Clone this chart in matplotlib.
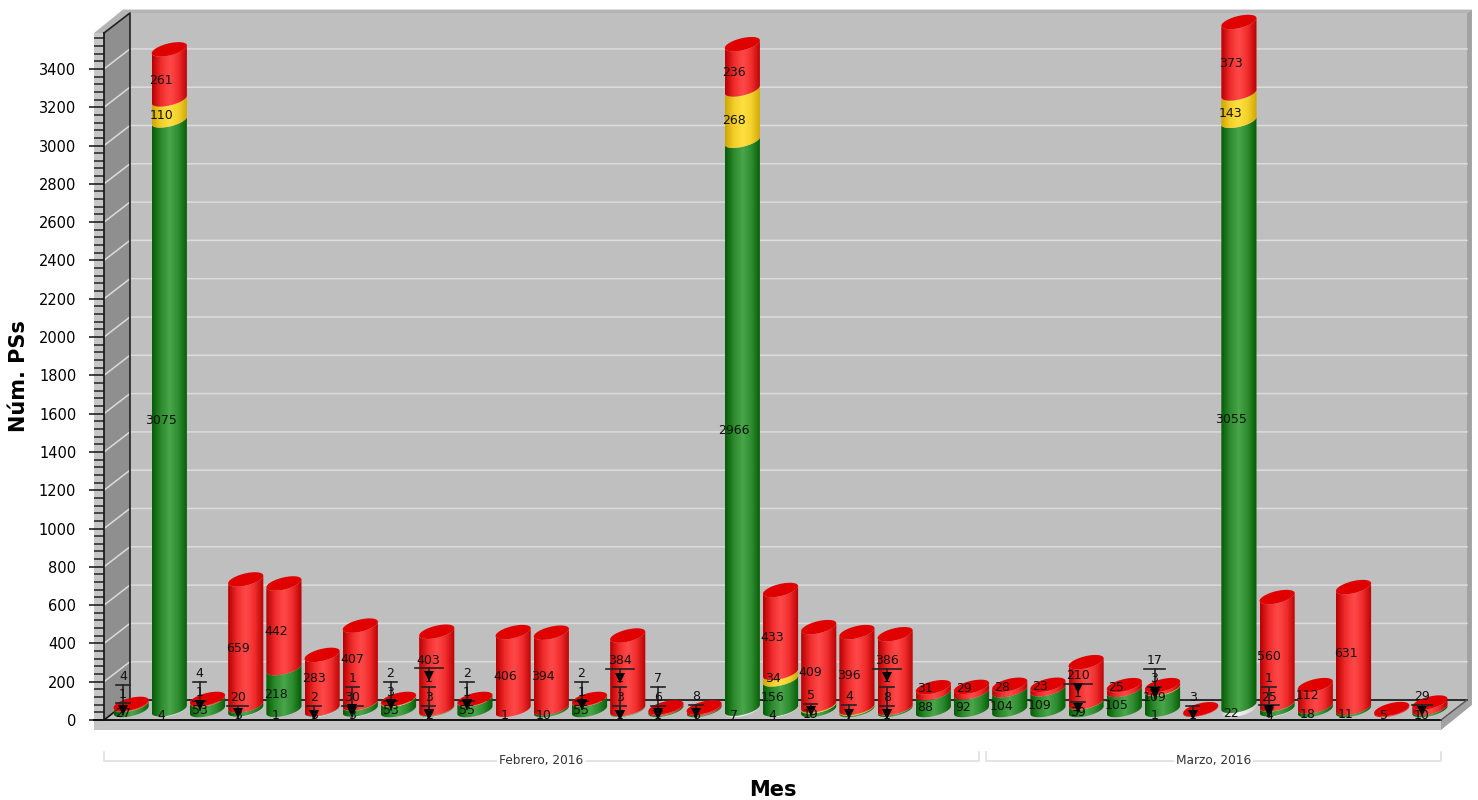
import numpy as np
import matplotlib
matplotlib.use("Agg")
import matplotlib.pyplot as plt
from matplotlib.colors import LinearSegmentedColormap
from matplotlib.patches import Polygon
from matplotlib.ticker import MultipleLocator

# PS counts per column, stacked bottom to top
sin_dato = [0, 4, 0, 3, 1, 3, 3, 0, 2, 0, 1, 0, 0, 1, 1, 0, 7, 4, 0, 0, 1,
            0, 0, 0, 0, 0, 0, 1, 1, 22, 4, 0, 0, 0, 0]
verde = [27, 3075, 53, 20, 218, 2, 30, 53, 3, 55, 0, 10, 55, 3, 6, 6, 2966, 156, 19, 7, 8,
         88, 92, 104, 109, 39, 105, 109, 0, 3055, 25, 18, 11, 0, 10]
amarillo = [1, 110, 1, 0, 0, 0, 1, 3, 1, 1, 0, 0, 1, 1, 0, 0, 268, 34, 5, 4, 1,
            0, 0, 0, 0, 1, 0, 3, 0, 143, 1, 0, 0, 0, 0]
rojo = [4, 261, 4, 659, 442, 283, 407, 2, 403, 2, 406, 394, 2, 384, 7, 8, 236, 433, 409, 396, 386,
        31, 29, 28, 23, 210, 25, 17, 3, 373, 560, 112, 631, 5, 29]

meses = ["Febrero, 2016", "Marzo, 2016"]
columnas_mes = [23, 12]

Y_TOP = 3587.5
DEPTH_X, DEPTH_Y = 0.68, 104.4      # oblique depth of the box, in data units
BAR_DX, BAR_DY = 0.21, 52           # bars stand halfway into the box
BAR_RX, CAP_RY, CAP_TILT = 0.46, 32, 20
BAND_X, BAND_Y = 0.26, 52
LABEL_LIFT, LABEL_GAP, LEADER_MIN = 21, 97, 60

GRADIENTS = {
    "sin": ["#c8c8c8", "#e4e4e4", "#f2f2f2", "#e4e4e4", "#c8c8c8"],
    "verde": ["#045c04", "#2e8a2e", "#4aa64a", "#2e8a2e", "#045c04"],
    "amarillo": ["#cfa600", "#f2cf2c", "#ffe040", "#f2cf2c", "#cfa600"],
    "rojo": ["#b80000", "#f02c2c", "#ff4a4a", "#f02c2c", "#b80000"],
}
CAP_COLOR = "#e00000"

fig = plt.figure(figsize=(14.78, 8), dpi=100, facecolor="white")
ax = fig.add_axes([104 / 1478, 80 / 800, 1337 / 1478, 687 / 800])
n = len(verde)


def front_curve(cx, y, reverse=False):
    t = np.linspace(np.pi, 2 * np.pi, 40)
    if reverse:
        t = t[::-1]
    return np.column_stack([cx + BAR_RX * np.cos(t), y + CAP_RY * np.sin(t) + CAP_TILT * np.cos(t)])


def draw_segment(cx, y0, y1, name):
    outline = np.vstack([front_curve(cx, y0), front_curve(cx, y1, reverse=True)])
    clip = Polygon(outline, transform=ax.transData)
    cmap = LinearSegmentedColormap.from_list(name, GRADIENTS[name])
    im = ax.imshow(np.linspace(0, 1, 64).reshape(1, -1), cmap=cmap, aspect="auto", zorder=2,
                   extent=[cx - BAR_RX, cx + BAR_RX, y0 - CAP_RY - CAP_TILT, y1 + CAP_RY + CAP_TILT])
    im.set_clip_box(fig.bbox)
    im.set_clip_path(clip)


def draw_cap(cx, y):
    t = np.linspace(0, 2 * np.pi, 80)
    xy = np.column_stack([cx + BAR_RX * np.cos(t), y + CAP_RY * np.sin(t) + CAP_TILT * np.cos(t)])
    ax.add_patch(Polygon(xy, facecolor=CAP_COLOR, edgecolor="none", zorder=2.1, clip_on=False))


def draw_label(cx, value, base, prev):
    mid = base + value / 2
    natural = mid + LABEL_LIFT
    y = natural if prev is None else max(natural, prev + LABEL_GAP)
    ax.text(cx, y, str(value), ha="center", va="center", fontsize=9, color="#111111",
            zorder=6, clip_on=False)
    if y - natural > LEADER_MIN:
        half = (6 + 7.3 * len(str(value))) / 2 / 38.2
        bar_y = y - 44
        ax.plot([cx - half, cx + half], [bar_y, bar_y], color="#222222", lw=1.2, zorder=5)
        ax.plot([cx, cx], [bar_y, mid], color="#222222", lw=1.2, zorder=5)
        ax.plot([cx], [mid + 24], marker="v", ms=7, color="black", mew=0, zorder=5)
    return y


# box: back wall, side wall, floor and the raised rim around them
right = n + DEPTH_X
back_top = Y_TOP + DEPTH_Y
ax.add_patch(Polygon([(DEPTH_X, DEPTH_Y), (DEPTH_X, back_top), (right, back_top), (right, DEPTH_Y)],
                     facecolor="#bfbfbf", edgecolor="none", zorder=0.5, clip_on=False))
ax.add_patch(Polygon([(0, 0), (0, Y_TOP), (DEPTH_X, back_top), (DEPTH_X, DEPTH_Y)],
                     facecolor="#8f8f8f", edgecolor="none", zorder=0.6, clip_on=False))
ax.add_patch(Polygon([(0, 0), (DEPTH_X, DEPTH_Y), (right, DEPTH_Y), (n, 0)],
                     facecolor="#bfbfbf", edgecolor="none", zorder=0.6, clip_on=False))
ax.add_patch(Polygon([(-BAND_X, -BAND_Y), (-BAND_X, Y_TOP), (0, Y_TOP), (0, 0), (n, 0), (n, -BAND_Y)],
                     facecolor="#c6c6c6", edgecolor="none", zorder=0.4, clip_on=False))
ax.add_patch(Polygon([(-BAND_X, Y_TOP), (DEPTH_X - 0.18, back_top + 18), (right + 0.13, back_top + 18),
                      (right, back_top), (DEPTH_X, back_top), (0, Y_TOP)],
                     facecolor="#b4b4b4", edgecolor="none", zorder=0.4, clip_on=False))
ax.add_patch(Polygon([(right, back_top), (right + 0.13, back_top + 18), (right + 0.13, DEPTH_Y - 26),
                      (n, -BAND_Y), (n, 0), (right, DEPTH_Y)],
                     facecolor="#a2a2a2", edgecolor="none", zorder=0.4, clip_on=False))

for v in np.arange(200, 3401, 200):
    ax.plot([0, DEPTH_X, right], [v, v + DEPTH_Y, v + DEPTH_Y], color="#dcdcdc", lw=1.1,
            zorder=0.8, clip_on=False)

ax.plot([0, DEPTH_X, right], [0, DEPTH_Y, DEPTH_Y], color="#111111", lw=1.2, zorder=1, clip_on=False)
ax.plot([-BAND_X, n], [0, 0], color="#111111", lw=1.4, zorder=1, clip_on=False)
ax.plot([n, right], [0, DEPTH_Y], color="#555555", lw=1, zorder=1, clip_on=False)
ax.plot([0, DEPTH_X, DEPTH_X], [Y_TOP, back_top, DEPTH_Y], color="#222222", lw=1.2, zorder=1, clip_on=False)

# cylinders, then their labels so the text sits on top of every bar
for i in range(n):
    cx = i + 0.5 + BAR_DX
    base = BAR_DY
    for name, serie in [("sin", sin_dato), ("verde", verde), ("amarillo", amarillo), ("rojo", rojo)]:
        if serie[i] > 0:
            draw_segment(cx, base, base + serie[i], name)
            base += serie[i]
    draw_cap(cx, base)

for i in range(n):
    base = 0
    prev = None
    for serie in [sin_dato, verde, amarillo, rojo]:
        if serie[i] > 0:
            prev = draw_label(i + 0.5, serie[i], base, prev)
            base += serie[i]

# month brackets under the floor
start = 0
trans = ax.get_xaxis_transform()
for mes, cols in zip(meses, columnas_mes):
    x0, x1 = start + 0.1 * (start > 0), start + cols - 0.1 * (start == 0)
    ax.plot([x0, x0, x1, x1], [-0.047, -0.0595, -0.0595, -0.047], color="#dddddd", lw=1.1,
            transform=trans, clip_on=False)
    ax.text((x0 + x1) / 2, -0.0595, mes, transform=trans, ha="center", va="center", fontsize=8.7,
            color="#333333", bbox=dict(facecolor="white", edgecolor="none", pad=1.5), zorder=3)
    start += cols

ax.set_xlim(0, n)
ax.set_ylim(0, Y_TOP)
ax.patch.set_visible(False)
for side in ["top", "right", "bottom"]:
    ax.spines[side].set_visible(False)
ax.spines["left"].set_color("#111111")
ax.spines["left"].set_linewidth(1.2)
ax.set_xticks([])
ax.yaxis.set_major_locator(MultipleLocator(200))
ax.yaxis.set_minor_locator(MultipleLocator(40))
ax.set_yticks(np.arange(0, 3401, 200))
ax.tick_params(axis="y", which="major", length=11, width=1.1, labelsize=10.5, pad=9, color="#111111")
ax.tick_params(axis="y", which="minor", length=7, width=1.1, color="#222222")
ax.set_ylabel("Núm. PSs", fontsize=15, fontweight="bold", labelpad=7)
ax.set_xlabel("Mes", fontsize=15, fontweight="bold", labelpad=43)

fig.savefig("out.png", dpi=100)
